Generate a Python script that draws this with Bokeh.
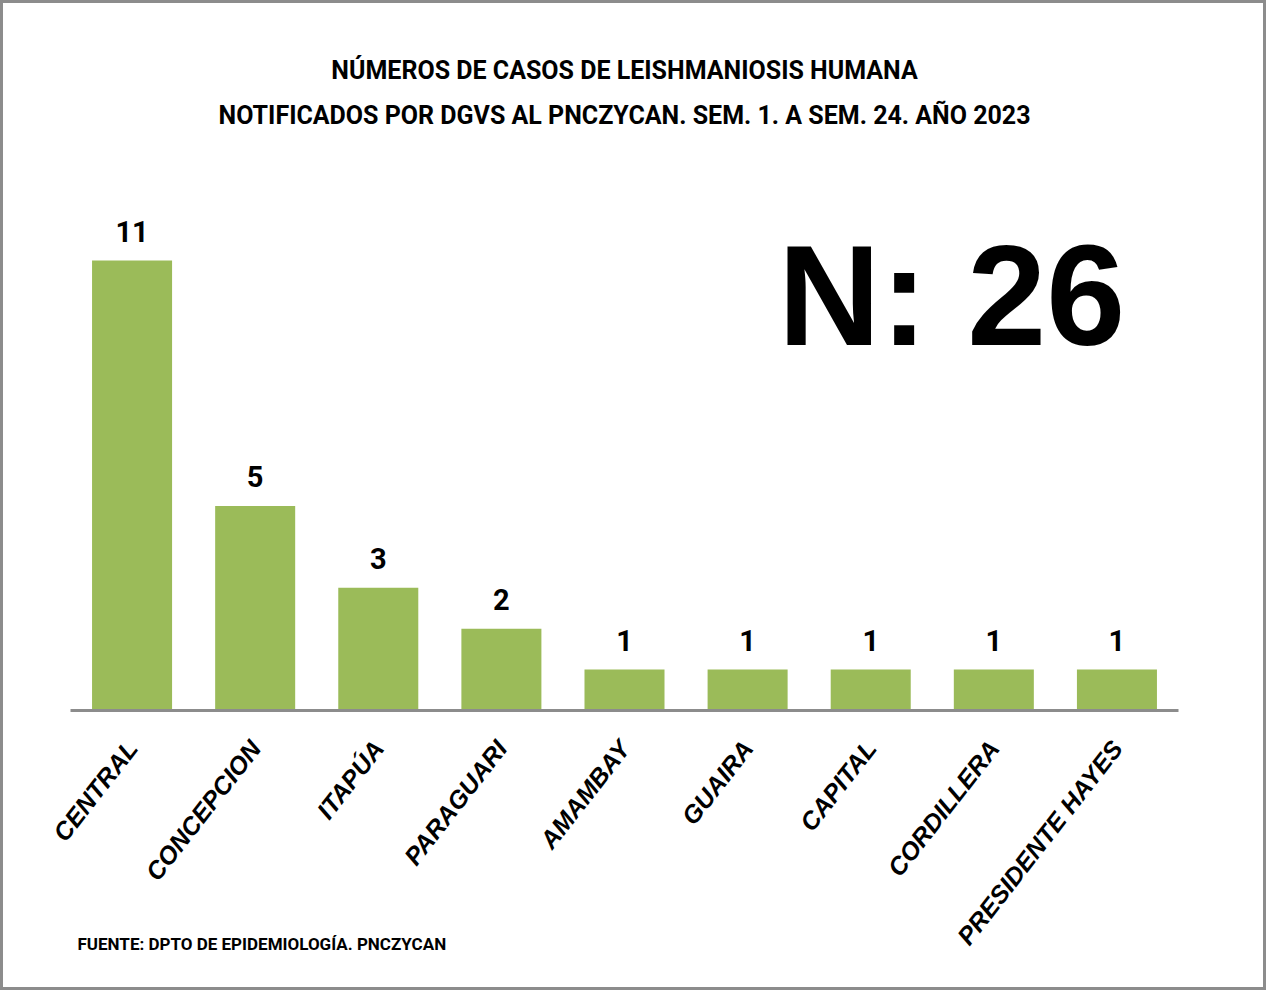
import math
from bokeh.plotting import figure
from bokeh.models import ColumnDataSource, FactorRange, Range1d, Label, LabelSet
from bokeh.core.properties import value
from bokeh.embed import file_html
from bokeh.resources import INLINE

departments = ["CENTRAL", "CONCEPCION", "ITAPÚA", "PARAGUARI", "AMAMBAY",
               "GUAIRA", "CAPITAL", "CORDILLERA", "PRESIDENTE HAYES"]
cases = [11, 5, 3, 2, 1, 1, 1, 1, 1]
title_lines = ["NÚMEROS DE CASOS DE LEISHMANIOSIS HUMANA",
               "NOTIFICADOS POR DGVS AL PNCZYCAN. SEM. 1. A SEM. 24. AÑO 2023"]
total_text = "N: 26"
source_text = "FUENTE: DPTO DE EPIDEMIOLOGÍA. PNCZYCAN"

W, H = 1266, 990
AXIS_LEFT = 67      # canvas x where the category axis starts
PER_CAT = 123.1     # px per category
BASE = 707          # canvas y of the baseline
PX_PER_UNIT = 40.9
n = len(departments)
pad_units = AXIS_LEFT / PER_CAT
RIGHT = W - int(round(AXIS_LEFT + n * PER_CAT + AXIS_LEFT))

def dx(cx):   # canvas x -> synthetic x coordinate
    return (cx - AXIS_LEFT) / PER_CAT

def dy(cy):   # canvas y -> data y
    return (BASE - cy) / PX_PER_UNIT

TITLE_FONT = "Roboto"
BIG_FONT = "Liberation Sans"

p = figure(x_range=FactorRange(*departments, range_padding=pad_units,
                               range_padding_units="absolute"),
           y_range=Range1d(dy(H), dy(0)),
           width=W, height=H, output_backend="svg", toolbar_location=None,
           min_border_left=0, min_border_right=RIGHT,
           min_border_top=0, min_border_bottom=0)
p.styles = {"border": "3px solid #8c8c8c"}
p.outline_line_color = None
p.xgrid.visible = False
p.ygrid.visible = False
p.yaxis.visible = False
p.background_fill_color = "white"
p.border_fill_color = "white"

src = ColumnDataSource(dict(dept=departments, cases=cases,
                            lbl=[str(c) for c in cases]))
p.vbar(x="dept", top="cases", width=0.65, bottom=0, source=src,
       fill_color="#9BBB59", line_color=None)

# category baseline (axis line) spanning the categories
p.segment(x0=[0], y0=[0], x1=[n], y1=[0], line_color="#8c8c8c", line_width=3)

p.add_layout(LabelSet(x="dept", y="cases", text="lbl", source=src,
                      y_offset=19, text_align="center", text_baseline="bottom",
                      text_font=value(TITLE_FONT), text_font_style="bold",
                      text_font_size="29px", text_color="black"))

ax = p.xaxis[0]
ax.fixed_location = 0
ax.axis_line_color = None
ax.major_tick_line_color = None
ax.minor_tick_line_color = None
ax.major_label_orientation = math.radians(52)
ax.major_label_text_font = "Liberation Sans"
ax.major_label_text_font_style = "bold italic"
ax.major_label_text_font_size = "25px"
ax.major_label_text_color = "black"
ax.major_label_standoff = 27

for line, cy in zip(title_lines, [67, 112]):
    p.add_layout(Label(x=dx(621), y=dy(cy), text=line, text_align="center",
                       text_baseline="middle", text_font=TITLE_FONT,
                       text_font_style="bold", text_font_size="25px",
                       text_color="black"))

p.add_layout(Label(x=dx(948), y=dy(292), text=total_text, text_align="center",
                   text_baseline="alphabetic", text_font=BIG_FONT,
                   text_font_style="bold", text_font_size="142px",
                   text_color="black"))

p.add_layout(Label(x=dx(74), y=dy(940), text=source_text, text_align="left",
                   text_baseline="middle", text_font=TITLE_FONT,
                   text_font_style="bold", text_font_size="17px",
                   text_color="black"))

open("out.html", "w").write(file_html(p, INLINE))
